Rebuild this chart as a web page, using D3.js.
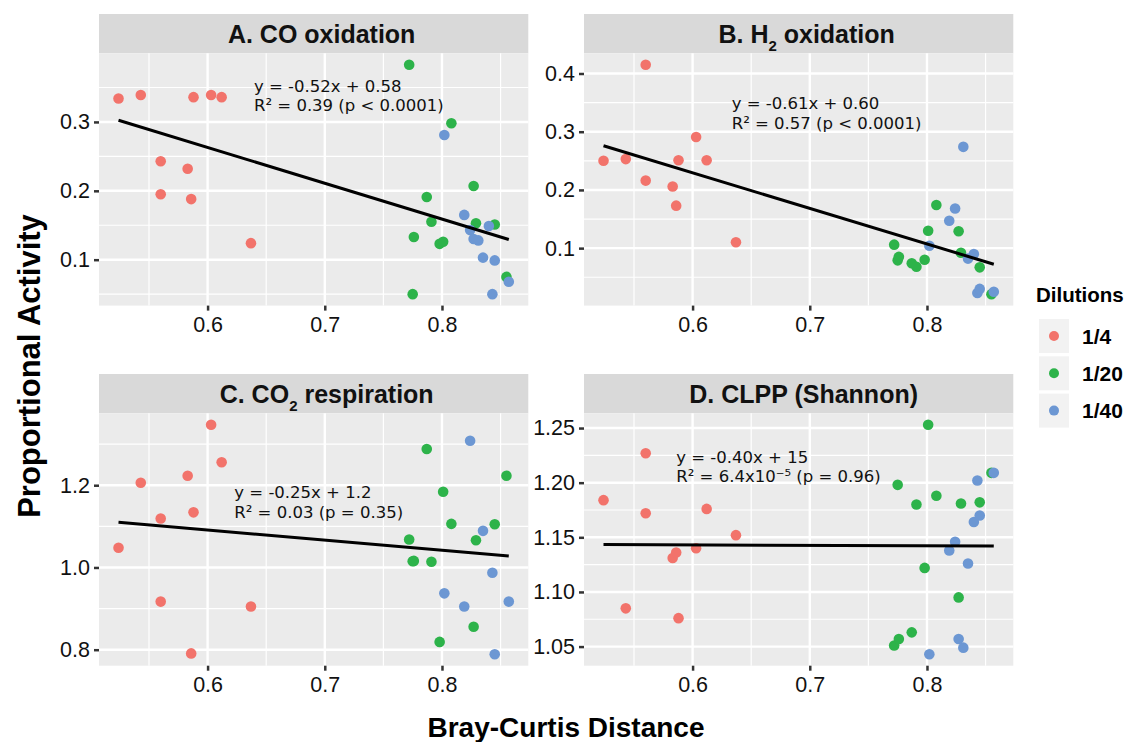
<!DOCTYPE html>
<html>
<head>
<meta charset="utf-8">
<script src="https://cdn.jsdelivr.net/npm/d3@7"></script>
<style>
  body { margin: 0; background: #fff; }
  text { font-family: "Liberation Sans", Arial, sans-serif; }
</style>
</head>
<body>
<div id="chart"></div>
<script>
// Bray-Curtis distance of each sample, per dilution (shared by all 4 panels)
const bcQuarter   = [0.524, 0.543, 0.560, 0.560, 0.583, 0.586, 0.588, 0.603, 0.612, 0.637];
const bcTwentieth = [0.772, 0.775, 0.776, 0.787, 0.791, 0.798, 0.801, 0.808, 0.827, 0.829, 0.845, 0.855];
const bcFortieth  = [0.802, 0.819, 0.824, 0.827, 0.831, 0.835, 0.840, 0.843, 0.845, 0.857];

// A. CO oxidation
const coQuarter   = [0.334, 0.339, 0.243, 0.195, 0.232, 0.188, 0.336, 0.339, 0.336, 0.124];
const coTwentieth = [0.383, 0.050, 0.133, 0.191, 0.155, 0.123, 0.126, 0.298, 0.207, 0.153, 0.151, 0.075];
const coFortieth  = [0.281, 0.165, 0.143, 0.130, 0.128, 0.103, 0.149, 0.050, 0.099, 0.068];

// B. H2 oxidation
const h2Quarter   = [0.250, 0.253, 0.415, 0.216, 0.206, 0.173, 0.251, 0.291, 0.251, 0.110];
const h2Twentieth = [0.106, 0.079, 0.085, 0.074, 0.068, 0.080, 0.130, 0.174, 0.129, 0.092, 0.067, 0.021];
const h2Fortieth  = [0.104, 0.147, 0.168, null, 0.274, 0.082, 0.090, 0.023, 0.030, 0.025];

// C. CO2 respiration
const co2Quarter   = [1.048, 1.206, 1.119, 0.917, 1.223, 0.791, 1.134, 1.347, 1.256, 0.905];
const co2Twentieth = [1.068, 1.015, 1.016, 1.288, 1.014, 0.819, 1.184, 1.106, 0.856, 1.066, 1.105, 1.223];
const co2Fortieth  = [0.937, 0.905, 1.308, null, null, 1.089, null, 0.987, 0.789, 0.917];

// D. CLPP (Shannon)
const clppQuarter   = [1.184, 1.085, 1.227, 1.172, 1.131, 1.136, 1.076, 1.140, 1.176, 1.152];
const clppTwentieth = [1.051, 1.198, 1.057, 1.063, 1.180, 1.122, 1.253, 1.188, 1.095, 1.181, 1.182, 1.209];
const clppFortieth  = [1.043, 1.138, 1.146, 1.057, 1.049, 1.126, 1.164, 1.202, 1.170, 1.209];

// fitted lines (slope, intercept)
const fitSlope     = [-0.520, -0.611, -0.247, -0.0036];
const fitIntercept = [0.575, 0.596, 1.2394, 1.1452];

const dilutions = ["1/4", "1/20", "1/40"];
const dilutionColors = ["#F2736B", "#2DB34A", "#6C97D3"];

const xTicks = [0.6, 0.7, 0.8];
const yTicksA = [0.1, 0.2, 0.3];
const yTicksB = [0.1, 0.2, 0.3, 0.4];
const yTicksC = [0.8, 1.0, 1.2];
const yTicksD = [1.05, 1.10, 1.15, 1.20, 1.25];

const panels = [
  { title: [["A. CO oxidation", false]], shift: 8, col: 0, row: 0,
    ys: [coQuarter, coTwentieth, coFortieth], ticks: yTicksA, fmt: d3.format(".1f"),
    eq: ["y = -0.52x + 0.58", "R² = 0.39 (p < 0.0001)"], eqAt: [0.6396, 0.3439] },
  { title: [["B. H", false], ["2", true], [" oxidation", false]], shift: 8, col: 1, row: 0,
    ys: [h2Quarter, h2Twentieth, h2Fortieth], ticks: yTicksB, fmt: d3.format(".1f"),
    eq: ["y = -0.61x + 0.60", "R² = 0.57 (p < 0.0001)"], eqAt: [0.6334, 0.3385] },
  { title: [["C. CO", false], ["2", true], [" respiration", false]], shift: 13, col: 0, row: 1,
    ys: [co2Quarter, co2Twentieth, co2Fortieth], ticks: yTicksC, fmt: d3.format(".1f"),
    eq: ["y = -0.25x + 1.2", "R² = 0.03 (p = 0.35)"], eqAt: [0.6228, 1.1695] },
  { title: [["D. CLPP (Shannon)", false]], shift: 5, col: 1, row: 1,
    ys: [clppQuarter, clppTwentieth, clppFortieth], ticks: yTicksD, fmt: d3.format(".2f"),
    eq: ["y = -0.40x + 15", "R² = 6.4x10⁻⁵ (p = 0.96)"], eqAt: [0.5861, 1.2183] }
];

const bcAll = [bcQuarter, bcTwentieth, bcFortieth];

// layout
const colX = [[99, 528.3], [584, 1013.3]];
const rowY = [{ strip: 14, top: 53.3, bottom: 305.6 }, { strip: 374, top: 413.3, bottom: 665.7 }];

const expand = ([a, b]) => [a - (b - a) * 0.05, b + (b - a) * 0.05];
const minors = (ticks, dom) => {
  const step = ticks[1] - ticks[0];
  const c = [ticks[0] - step / 2].concat(ticks.map(t => t + step / 2));
  return c.filter(v => v >= dom[0] && v <= dom[1]);
};

const svg = d3.select("#chart").append("svg")
  .attr("width", 1129)
  .attr("height", 742);

panels.forEach((p, pi) => {
  const [x0, x1] = colX[p.col];
  const r = rowY[p.row];

  const x = d3.scaleLinear()
    .domain(expand(d3.extent(bcAll.flat())))
    .range([x0, x1]);
  const y = d3.scaleLinear()
    .domain(expand(d3.extent(p.ys.flat().filter(v => v != null))))
    .range([r.bottom, r.top]);

  const g = svg.append("g");

  // strip
  g.append("rect")
    .attr("x", x0).attr("y", r.strip)
    .attr("width", x1 - x0).attr("height", r.top - r.strip)
    .attr("fill", "#D9D9D9");
  const t = g.append("text")
    .attr("x", (x0 + x1) / 2 + p.shift)
    .attr("y", (r.strip + r.top) / 2 + 9)
    .attr("text-anchor", "middle")
    .attr("font-size", 25)
    .attr("font-weight", "bold")
    .attr("fill", "#111");
  p.title.forEach(([s, sub]) => {
    const ts = t.append("tspan").text(s);
    if (sub) ts.attr("font-size", 15).attr("dy", 8);
    else if (s.startsWith(" ")) ts.attr("dy", -8);
  });

  // panel background
  g.append("rect")
    .attr("x", x0).attr("y", r.top)
    .attr("width", x1 - x0).attr("height", r.bottom - r.top)
    .attr("fill", "#EBEBEB");

  // grid
  const grid = g.append("g").attr("stroke", "#fff");
  grid.selectAll(".xminor").data(minors(xTicks, x.domain())).enter().append("line")
    .attr("x1", d => x(d)).attr("x2", d => x(d))
    .attr("y1", r.top).attr("y2", r.bottom).attr("stroke-width", 1.2);
  grid.selectAll(".yminor").data(minors(p.ticks, y.domain())).enter().append("line")
    .attr("y1", d => y(d)).attr("y2", d => y(d))
    .attr("x1", x0).attr("x2", x1).attr("stroke-width", 1.2);
  grid.selectAll(".xmajor").data(xTicks).enter().append("line")
    .attr("x1", d => x(d)).attr("x2", d => x(d))
    .attr("y1", r.top).attr("y2", r.bottom).attr("stroke-width", 2.4);
  grid.selectAll(".ymajor").data(p.ticks).enter().append("line")
    .attr("y1", d => y(d)).attr("y2", d => y(d))
    .attr("x1", x0).attr("x2", x1).attr("stroke-width", 2.4);

  // points
  p.ys.forEach((vals, k) => {
    const pts = vals.map((v, i) => [bcAll[k][i], v]).filter(d => d[1] != null);
    g.append("g").selectAll("circle")
      .data(pts)
      .enter()
      .append("circle")
      .attr("cx", d => x(d[0]))
      .attr("cy", d => y(d[1]))
      .attr("r", 5.3)
      .attr("fill", dilutionColors[k]);
  });

  // regression line
  const [lx0, lx1] = d3.extent(bcAll.flat());
  g.append("line")
    .attr("x1", x(lx0)).attr("y1", y(fitSlope[pi] * lx0 + fitIntercept[pi]))
    .attr("x2", x(lx1)).attr("y2", y(fitSlope[pi] * lx1 + fitIntercept[pi]))
    .attr("stroke", "#000")
    .attr("stroke-width", 3);

  // equation
  const eq = g.append("text")
    .attr("x", x(p.eqAt[0]))
    .attr("y", y(p.eqAt[1]))
    .style("font-family", "'DejaVu Sans', sans-serif")
    .attr("font-size", 16.5)
    .attr("fill", "#111");
  p.eq.forEach((s, i) => {
    eq.append("tspan")
      .attr("x", x(p.eqAt[0]))
      .attr("dy", i === 0 ? 0 : 19.8)
      .text(s);
  });

  // axes
  const ax = g.append("g")
    .attr("transform", "translate(" + x0 + ",0)")
    .call(d3.axisLeft(y).tickValues(p.ticks).tickFormat(p.fmt).tickSize(5).tickPadding(4));
  const bx = g.append("g")
    .attr("transform", "translate(0," + r.bottom + ")")
    .call(d3.axisBottom(x).tickValues(xTicks).tickFormat(d3.format(".1f")).tickSize(5).tickPadding(6));
  [ax, bx].forEach(a => {
    a.select(".domain").remove();
    a.selectAll(".tick line").attr("stroke", "#333").attr("stroke-width", 2.5);
    a.selectAll(".tick text")
      .attr("font-size", 21.5)
      .attr("fill", "#111")
      .style("font-family", "'Liberation Sans', Arial, sans-serif");
  });
});

// axis titles
svg.append("text")
  .attr("x", 566).attr("y", 737)
  .attr("text-anchor", "middle")
  .attr("font-size", 28)
  .attr("font-weight", "bold")
  .attr("fill", "#000")
  .text("Bray-Curtis Distance");

svg.append("text")
  .attr("transform", "translate(40,366) rotate(-90)")
  .attr("text-anchor", "middle")
  .attr("font-size", 31)
  .attr("font-weight", "bold")
  .attr("fill", "#000")
  .text("Proportional Activity");

// legend
const legend = svg.append("g");
legend.append("text")
  .attr("x", 1036).attr("y", 301.7)
  .attr("font-size", 20.5)
  .attr("font-weight", "bold")
  .text("Dilutions");
dilutions.forEach((d, i) => {
  const cy = 336 + i * 37.3;
  legend.append("rect")
    .attr("x", 1039).attr("y", cy - 17)
    .attr("width", 30).attr("height", 34)
    .attr("fill", "#F2F2F2");
  legend.append("circle")
    .attr("cx", 1054).attr("cy", cy)
    .attr("r", 5)
    .attr("fill", dilutionColors[i]);
  legend.append("text")
    .attr("x", 1082).attr("y", cy + 7.5)
    .attr("font-size", 21)
    .attr("font-weight", "bold")
    .text(d);
});
</script>
</body>
</html>
